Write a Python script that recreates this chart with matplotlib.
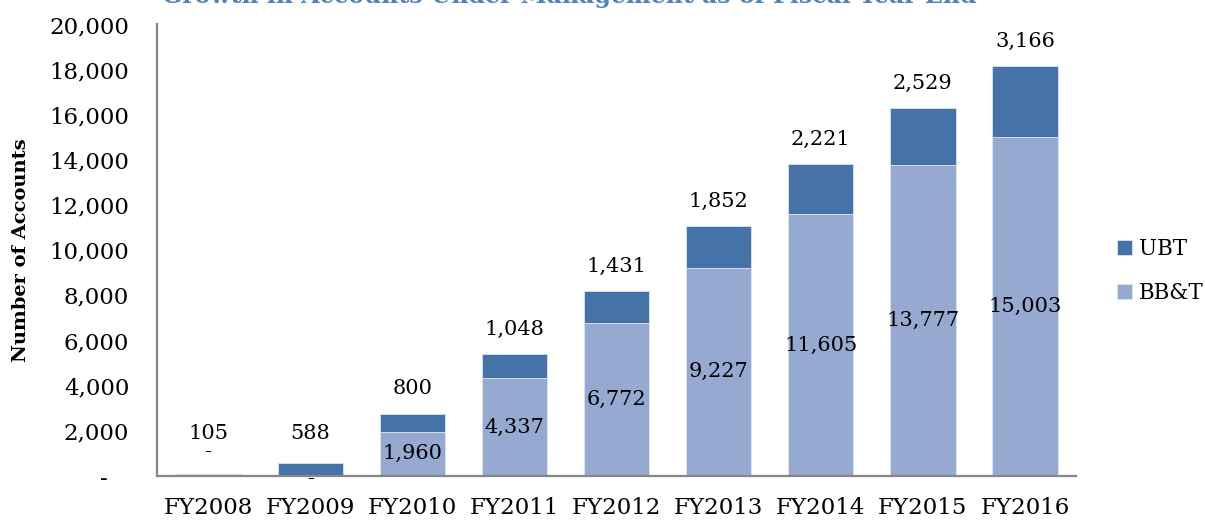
import matplotlib
matplotlib.use("Agg")
import matplotlib.pyplot as plt
from matplotlib.ticker import FuncFormatter

years = ["FY2008", "FY2009", "FY2010", "FY2011", "FY2012",
         "FY2013", "FY2014", "FY2015", "FY2016"]
bbt = [0, 0, 1960, 4337, 6772, 9227, 11605, 13777, 15003]
ubt = [105, 588, 800, 1048, 1431, 1852, 2221, 2529, 3166]

UBT_COL = "#4572A7"
BBT_COL = "#95A9D1"
SPINE = "#878787"

plt.rcParams["font.family"] = ["DejaVu Serif"]


def fmt(v, pos=None):
    if v == 0:
        return "-   "
    return "{:,.0f}".format(v)


def main():
    fig = plt.figure(figsize=(12.05, 5.2), dpi=100)
    ax = fig.add_axes([0.1303, 0.0846, 0.7627, 0.8684])

    x = list(range(len(years)))
    b1 = ax.bar(x, bbt, width=0.64, color=BBT_COL, edgecolor="#dde4f0",
                linewidth=0.6, label="BB&T", zorder=2)
    b2 = ax.bar(x, ubt, width=0.64, bottom=bbt, color=UBT_COL,
                edgecolor="#dde4f0", linewidth=0.6, label="UBT", zorder=2)

    for i in x:
        total = bbt[i] + ubt[i]
        # UBT label above the stack
        ax.text(i, max(total + 1100, 1900), "{:,}".format(ubt[i]),
                ha="center", va="center", fontsize=15)
        # BB&T label in the middle of its segment
        if bbt[i] == 0:
            yoff = 25 if i == 0 else -2
            ax.annotate("-", (i, 0), xytext=(0, yoff), textcoords="offset pixels",
                        ha="center", va="center", fontsize=15)
        else:
            ax.text(i, bbt[i] / 2, "{:,}".format(bbt[i]),
                    ha="center", va="center", fontsize=15)

    ax.set_xlim(-0.5, 8.5)
    ax.set_ylim(0, 20000)
    ax.set_yticks(range(0, 20001, 2000))
    ax.yaxis.set_major_formatter(FuncFormatter(fmt))
    ax.set_xticks(x)
    ax.set_xticklabels(years)
    ax.tick_params(axis="both", length=0, labelsize=16.5)
    ax.tick_params(axis="y", pad=20)
    ax.tick_params(axis="x", pad=15)

    for s in ["top", "right"]:
        ax.spines[s].set_visible(False)
    for s in ["left", "bottom"]:
        ax.spines[s].set_color(SPINE)
        ax.spines[s].set_linewidth(1.6)

    ax.set_ylabel("Number of Accounts", fontsize=14, fontweight="bold")
    ax.yaxis.set_label_coords(-0.138, 0.5)

    fig.text(0.472, 1 - 3 / 520, "Growth in Accounts Under Management as of Fiscal Year End",
             ha="center", va="baseline", fontsize=17, fontweight="bold",
             color="#4F81BD")

    fig.legend(handles=[b2, b1], labels=["UBT", "BB&T"], loc="center left",
               bbox_to_anchor=(0.927, 0.479), frameon=False, fontsize=15.5,
               handlelength=0.7, handleheight=0.7, handletextpad=0.3,
               labelspacing=1.0, borderaxespad=0, borderpad=0)

    fig.savefig("out.png", dpi=100)


if __name__ == "__main__":
    main()
